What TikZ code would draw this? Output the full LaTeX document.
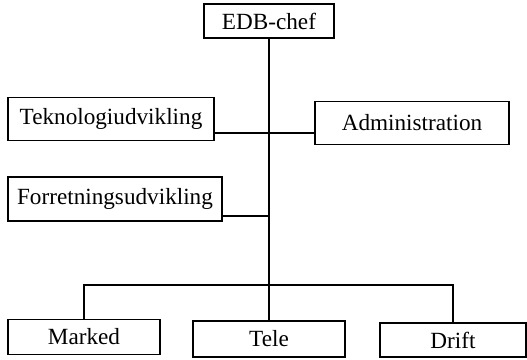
\documentclass[tikz,border=0pt]{standalone}
\usepackage{fontspec}
\setmainfont{Liberation Serif}
\usepackage{tikz}

\begin{document}
\begin{tikzpicture}[x=0.02cm, y=-0.02cm, line width=1.1pt,
  unit/.style={draw, rectangle, inner sep=0pt,
               font=\fontsize{13.2}{16}\selectfont}]

\useasboundingbox (0,0) rectangle (527,359);

% boxes
\draw (269, 21) node[unit, minimum width=130*0.02cm, minimum height=34*0.02cm] (chef) {EDB-chef};
\draw (111, 119) node[unit, minimum width=206*0.02cm, minimum height=43*0.02cm] (tekno) {Teknologiudvikling};
\draw (412, 123) node[unit, minimum width=194*0.02cm, minimum height=43*0.02cm] (admin) {Administration};
\draw (115, 199) node[unit, minimum width=214*0.02cm, minimum height=44*0.02cm] (forret) {Forretningsudvikling};
\draw (84, 337) node[unit, minimum width=152*0.02cm, minimum height=35*0.02cm] (marked) {Marked};
\draw (269, 339) node[unit, minimum width=152*0.02cm, minimum height=36*0.02cm] (tele) {Tele};
\draw (453, 340) node[unit, minimum width=146*0.02cm, minimum height=34*0.02cm] (drift) {Drift};

% junctions on the trunk
\coordinate (j1) at (269, 133);
\coordinate (j2) at (269, 216);
\coordinate (bar) at (269, 285);

% lines
\draw (chef.south) -- (tele.north);
\draw (tekno.east |- j1) -- (admin.west |- j1);
\draw (forret.east |- j2) -- (j2);
\draw (marked.north) |- (bar) -| (drift.north);
\end{tikzpicture}
\end{document}
